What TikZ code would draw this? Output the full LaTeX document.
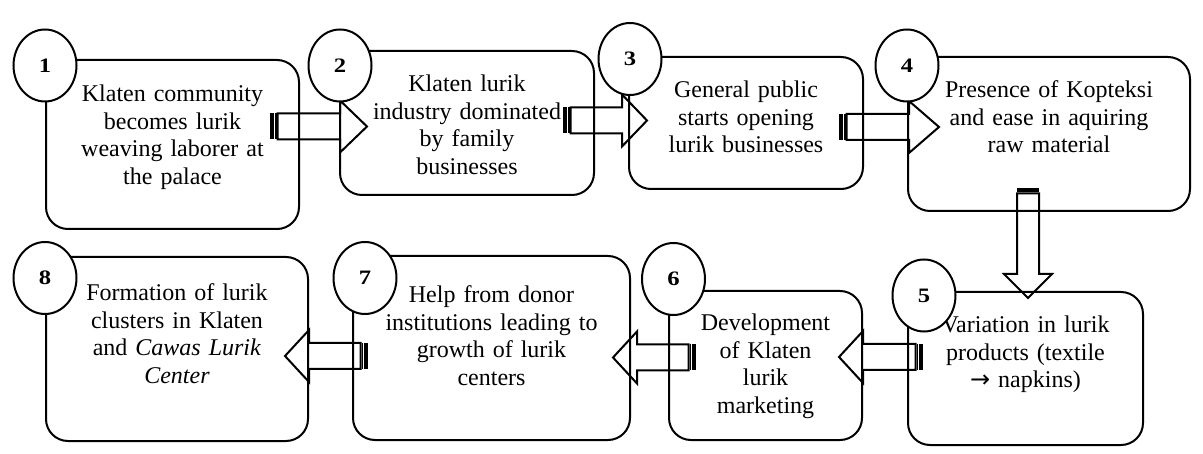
\documentclass[tikz,border=0pt]{standalone}
\usepackage{fontspec}
\usepackage{graphicx}
\setmainfont{Liberation Serif}
\newfontfamily\arrowfont{DejaVu Sans}
\usetikzlibrary{shapes.geometric}
\newcommand{\RArrow}[4]{%
 \fill ({#1},{#2-13}) rectangle ({#1+4},{#2+13});
 \fill ({#1+5},{#2-13}) rectangle ({#1+6.5},{#2+13});
 \draw[arr] ({#1+7.5},{#2-13}) -- ({#3},{#2-13}) -- ({#3},{#2-26}) -- ({#4},{#2}) -- ({#3},{#2+26}) -- ({#3},{#2+13}) -- ({#1+7.5},{#2+13}) -- cycle;}
\newcommand{\LArrow}[4]{%
 \fill ({#1-4},{#2-13}) rectangle ({#1},{#2+13});
 \fill ({#1-6.5},{#2-13}) rectangle ({#1-5},{#2+13});
 \draw[arr] ({#1-7.5},{#2-13}) -- ({#3},{#2-13}) -- ({#3},{#2-26}) -- ({#4},{#2}) -- ({#3},{#2+26}) -- ({#3},{#2+13}) -- ({#1-7.5},{#2+13}) -- cycle;}
\newcommand{\DArrow}[4]{%
 \fill ({#1-11},{#2}) rectangle ({#1+11},{#2+4.5});
 \draw[arr] ({#1-11},{#2+5.5}) -- ({#1-11},{#3}) -- ({#1-24},{#3}) -- ({#1},{#4}) -- ({#1+24},{#3}) -- ({#1+11},{#3}) -- ({#1+11},{#2+5.5}) -- cycle;}
\newcommand{\digit}[1]{\scalebox{1.2}[1]{#1}}
\begin{document}
\begin{tikzpicture}[x=1pt,y=-1pt,
  box/.style={draw, line width=2pt, rounded corners=22pt, inner sep=0pt},
  txt/.style={text width=260pt, align=center, inner sep=0pt, anchor=base, font=\fontsize{24}{27.5}\selectfont},
  num/.style={draw, fill=white, line width=2pt, ellipse, minimum width=63pt, minimum height=72pt, inner sep=0pt, font=\fontsize{20.5}{22}\selectfont\bfseries},
  arr/.style={line width=2pt}]
\useasboundingbox (0,0) rectangle (1203,454);
% boxes
\node (b1) [box, minimum width=253pt, minimum height=169pt] at (172.5,144.5) {};
\node (b2) [box, minimum width=254pt, minimum height=144pt] at (467,123) {};
\node (b3) [box, minimum width=234pt, minimum height=132pt] at (746,123) {};
\node (b4) [box, minimum width=282pt, minimum height=154pt] at (1049,134) {};
\node (b5) [box, minimum width=235pt, minimum height=153pt] at (1025.5,368.5) {};
\node (b6) [box, minimum width=193pt, minimum height=149pt] at (765.5,365.5) {};
\node (b7) [box, minimum width=277pt, minimum height=184pt] at (491.5,348) {};
\node (b8) [box, minimum width=262pt, minimum height=184pt] at (177,349) {};
% texts
\node (t1) [txt] at (172.5,102) {Klaten community\\becomes lurik\\weaving laborer at\\the palace};
\node (t2) [txt] at (467,92) {Klaten lurik\\industry dominated\\by family\\businesses};
\node (t3) [txt] at (746,98) {General public\\starts opening\\lurik businesses};
\node (t4) [txt] at (1049,98) {Presence of Kopteksi\\and ease in aquiring\\raw material};
\node (t5) [txt] at (1025.5,333) {Variation in lurik\\products (textile\\{\arrowfont →} napkins)};
\node (t6) [txt] at (765.5,331) {Development\\of Klaten\\lurik\\marketing};
\node (t7) [txt] at (491.5,303) {Help from donor\\institutions leading to\\growth of lurik\\centers};
\node (t8) [txt] at (177,301) {Formation of lurik\\clusters in Klaten\\and \textit{Cawas Lurik}\\\textit{Center}};
% arrows
\RArrow{270}{126.5}{340}{367}
\RArrow{563}{120.5}{622}{647}
\RArrow{839}{127}{909}{939}
\DArrow{1028}{188}{274}{298}
\LArrow{923}{357}{863}{839}
\LArrow{696}{357.5}{637}{613}
\LArrow{368}{356}{309}{285}
% number circles
\node (n1) [num] at (45,65.5) {\digit{1}};
\node (n2) [num] at (340,65.5) {\digit{2}};
\node (n3) [num] at (630,59) {\digit{3}};
\node (n4) [num] at (907,65.5) {\digit{4}};
\node (n5) [num] at (924,295.5) {\digit{5}};
\node (n6) [num] at (673.5,279) {\digit{6}};
\node (n7) [num] at (365,278) {\digit{7}};
\node (n8) [num] at (45,278) {\digit{8}};
\end{tikzpicture}
\end{document}
